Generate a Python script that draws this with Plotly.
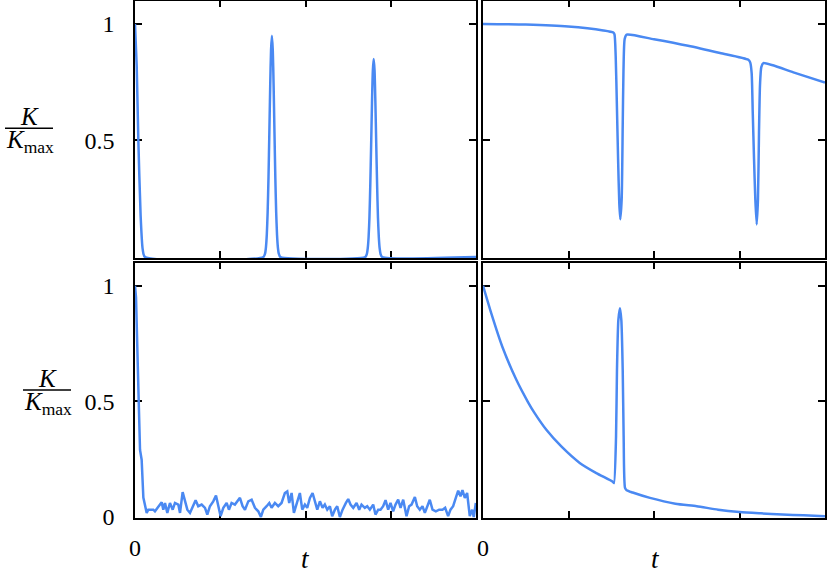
import plotly.graph_objects as go

# ---------------- data ----------------
# top-left panel
tl_t = [0.0, 0.02, 0.039, 0.066, 0.09, 0.117,
        1.506, 1.526, 1.536, 1.546, 1.556, 1.566, 1.576, 1.586, 1.596, 1.606,
        1.616, 1.626, 1.636, 1.646, 1.656, 1.666, 1.676, 1.686, 1.706,
        2.70, 2.72, 2.73, 2.74, 2.75, 2.76, 2.77, 2.78, 2.79, 2.80,
        2.81, 2.82, 2.83, 2.84, 2.85, 2.86, 2.87, 2.88, 2.90, 4.0]
tl_k = [1.0, 0.818, 0.504, 0.177, 0.034, 0.0,
        0.0, 0.016, 0.042, 0.096, 0.193, 0.342, 0.534, 0.735, 0.89, 0.949,
        0.89, 0.735, 0.534, 0.342, 0.193, 0.096, 0.042, 0.016, 0.0,
        0.0, 0.014, 0.037, 0.085, 0.17, 0.31, 0.48, 0.66, 0.80, 0.849,
        0.80, 0.66, 0.48, 0.31, 0.17, 0.085, 0.037, 0.014, 0.0, 0.0]

# top-right panel
tr_t = [0.0, 0.5, 0.996, 1.407, 1.524, 1.538, 1.552, 1.566, 1.58, 1.594, 1.606,
        1.622, 1.634, 1.643, 1.657, 1.68, 2.0, 2.398, 2.772, 3.103, 3.125,
        3.142, 3.155, 3.17, 3.185, 3.201, 3.216, 3.228, 3.24, 3.255, 3.279,
        3.63, 4.0]
tr_k = [1.0, 0.997, 0.989, 0.972, 0.963, 0.955, 0.86, 0.65, 0.42, 0.23, 0.162,
        0.248, 0.561, 0.80, 0.935, 0.954, 0.934, 0.906, 0.875, 0.846, 0.835,
        0.79, 0.62, 0.42, 0.248, 0.140, 0.248, 0.533, 0.74, 0.815, 0.832,
        0.792, 0.749]

# bottom-left panel
bl_t = [0.0, 0.012, 0.04, 0.059, 0.078, 0.098,
        0.137, 0.156, 0.184, 0.215, 0.234, 0.274, 0.313, 0.332, 0.352, 0.379,
        0.410, 0.442, 0.469, 0.508, 0.528, 0.559, 0.586, 0.614, 0.645, 0.676,
        0.711, 0.742, 0.782, 0.821, 0.848, 0.879, 0.918, 0.950, 0.977, 1.004,
        1.036, 1.075, 1.102, 1.133, 1.172, 1.200, 1.231, 1.262, 1.290, 1.329,
        1.368, 1.407, 1.446, 1.477, 1.505, 1.544, 1.575, 1.602, 1.641, 1.680,
        1.719, 1.758, 1.786, 1.809, 1.837, 1.864, 1.895, 1.934, 1.962, 1.993,
        2.020, 2.052, 2.083, 2.110, 2.138, 2.169, 2.200, 2.227, 2.255, 2.286,
        2.313, 2.345, 2.372, 2.403, 2.435, 2.474, 2.501, 2.528, 2.560, 2.599,
        2.630, 2.657, 2.696, 2.724, 2.755, 2.794, 2.821, 2.853, 2.880, 2.911,
        2.939, 2.970, 2.997, 3.028, 3.056, 3.087, 3.115, 3.146, 3.185, 3.216,
        3.244, 3.283, 3.310, 3.341, 3.372, 3.400, 3.427, 3.458, 3.490, 3.529,
        3.568, 3.607, 3.638, 3.673, 3.701, 3.732, 3.763, 3.791, 3.818, 3.841,
        3.869, 3.896, 3.927, 3.955, 3.974, 3.998]
bl_k = [1.0, 0.95, 0.55, 0.29, 0.248, 0.084,
        0.018, 0.032, 0.032, 0.032, 0.025, 0.047, 0.064, 0.032, 0.061, 0.018,
        0.061, 0.032, 0.061, 0.054, 0.018, 0.108, 0.075, 0.032, 0.018, 0.047,
        0.073, 0.047, 0.054, 0.040, 0.011, 0.047, 0.068, 0.093, 0.047, 0.004,
        0.040, 0.061, 0.032, 0.061, 0.054, 0.068, 0.083, 0.047, 0.032, 0.068,
        0.075, 0.040, 0.025, 0.001, 0.032, 0.047, 0.061, 0.040, 0.061, 0.047,
        0.061, 0.104, 0.111, 0.061, 0.104, 0.018, 0.061, 0.104, 0.032, 0.054,
        0.040, 0.083, 0.104, 0.068, 0.032, 0.068, 0.040, 0.054, 0.032, 0.047,
        0.004, 0.032, 0.047, 0.0, 0.032, 0.061, 0.078, 0.054, 0.040, 0.061,
        0.032, 0.054, 0.040, 0.047, 0.032, 0.054, 0.011, 0.032, 0.032, 0.047,
        0.073, 0.032, 0.061, 0.025, 0.054, 0.075, 0.040, 0.075, 0.004, 0.047,
        0.054, 0.087, 0.047, 0.032, 0.047, 0.018, 0.047, 0.075, 0.032, 0.025,
        0.032, 0.032, 0.040, 0.004, 0.032, 0.047, 0.083, 0.114, 0.090, 0.116,
        0.083, 0.104, 0.004, 0.032, 0.0, 0.061]

# bottom-right panel
br_t = [0.0, 0.097, 0.226, 0.390, 0.526, 0.604, 0.741, 0.916, 1.131, 1.326, 1.52,
        1.532, 1.556, 1.567, 1.583, 1.602, 1.618, 1.634, 1.645, 1.661, 1.68,
        1.75, 1.953, 2.25, 2.5, 2.75, 3.0, 3.25, 3.5, 3.75, 4.0]
br_k = [1.0, 0.88, 0.736, 0.593, 0.497, 0.449, 0.377, 0.305, 0.234, 0.190, 0.152,
        0.147, 0.348, 0.636, 0.851, 0.902, 0.851, 0.636, 0.348, 0.126, 0.116,
        0.106, 0.083, 0.058, 0.047, 0.032, 0.022, 0.016, 0.011, 0.008, 0.004]

y_ticks_top = [0.5, 1]
y_text_top = ["0.5", "1"]
y_ticks_bottom = [0, 0.5, 1]
y_text_bottom = ["0", "0.5", "1"]
x_ticks = [0]
x_text = ["0"]
x_minor_step = 1

# ---------------- figure ----------------
W, H = 830, 575
LINE = "#4a89f2"
SERIF = "Liberation Serif"

fig = go.Figure()
panels = [(tl_t, tl_k, "x", "y"), (tr_t, tr_k, "x2", "y2"),
          (bl_t, bl_k, "x3", "y3"), (br_t, br_k, "x4", "y4")]
for i, (t, k, xa, ya) in enumerate(panels):
    shape = "linear" if i == 2 else "spline"
    fig.add_trace(go.Scatter(x=t, y=k, xaxis=xa, yaxis=ya, mode="lines",
                             line=dict(color=LINE, width=2.5, shape=shape, smoothing=0.6),
                             showlegend=False, hoverinfo="skip"))

xl = [135 / W, 476 / W]
xr = [483 / W, 825 / W]
yt = [1 - 258 / H, 1 - 0.6 / H]
yb = [1 - 518 / H, 1 - 262.5 / H]

common = dict(showline=True, linecolor="black", linewidth=1.6, mirror="ticks",
              ticks="inside", ticklen=7, tickwidth=1.5, tickcolor="black",
              showgrid=False, zeroline=False, layer="below traces", automargin=False,
              tickfont=dict(family=SERIF, size=24, color="black"))

def xax(domain, anchor, labels):
    return dict(common, domain=domain, anchor=anchor, range=[0, 4],
                tickmode="array", tickvals=x_ticks, ticktext=x_text,
                showticklabels=labels, ticklabelstandoff=7,
                minor=dict(dtick=x_minor_step, tick0=0, ticks="inside", ticklen=7,
                           tickwidth=1.5, tickcolor="black", showgrid=False))

def yax(domain, anchor, labels, vals, text):
    return dict(common, domain=domain, anchor=anchor, range=[-0.004, 1.1],
                tickmode="array", tickvals=vals, ticktext=text,
                showticklabels=labels, ticklabelstandoff=14)

fig.update_layout(
    template="none",
    width=W, height=H, margin=dict(l=0, r=0, t=0, b=0, pad=0),
    paper_bgcolor="white", plot_bgcolor="white",
    xaxis=xax(xl, "y", False), yaxis=yax(yt, "x", True, y_ticks_top, y_text_top),
    xaxis2=xax(xr, "y2", False), yaxis2=yax(yt, "x2", False, y_ticks_top, y_text_top),
    xaxis3=xax(xl, "y3", True), yaxis3=yax(yb, "x3", True, y_ticks_bottom, y_text_bottom),
    xaxis4=xax(xr, "y4", True), yaxis4=yax(yb, "x4", False, y_ticks_bottom, y_text_bottom),
)

ann = []
def txt(x, y, s, size):
    ann.append(dict(x=x / W, y=1 - y / H, xref="paper", yref="paper", text=s,
                    showarrow=False, xanchor="center", yanchor="middle",
                    font=dict(family=SERIF, size=size, color="black")))

# x titles
txt(305, 559, "<i>t</i>", 27)
txt(655, 559, "<i>t</i>", 27)
# y titles (fractions)
for cx, bar_y in [(29, 128.3), (47, 390)]:
    txt(cx, bar_y - 12, "<i>K</i>", 25)
    txt(cx + 1, bar_y + 13, "<i>K</i><sub>max</sub>", 25)
    fig.add_shape(type="line", xref="paper", yref="paper",
                  x0=(cx - 24) / W, x1=(cx + 24) / W,
                  y0=1 - bar_y / H, y1=1 - bar_y / H,
                  line=dict(color="black", width=1.5))
fig.update_layout(annotations=ann)

fig.write_html("out.html", config={"displayModeBar": False},
               post_script="document.body.style.margin='0';document.body.style.padding='0';")
